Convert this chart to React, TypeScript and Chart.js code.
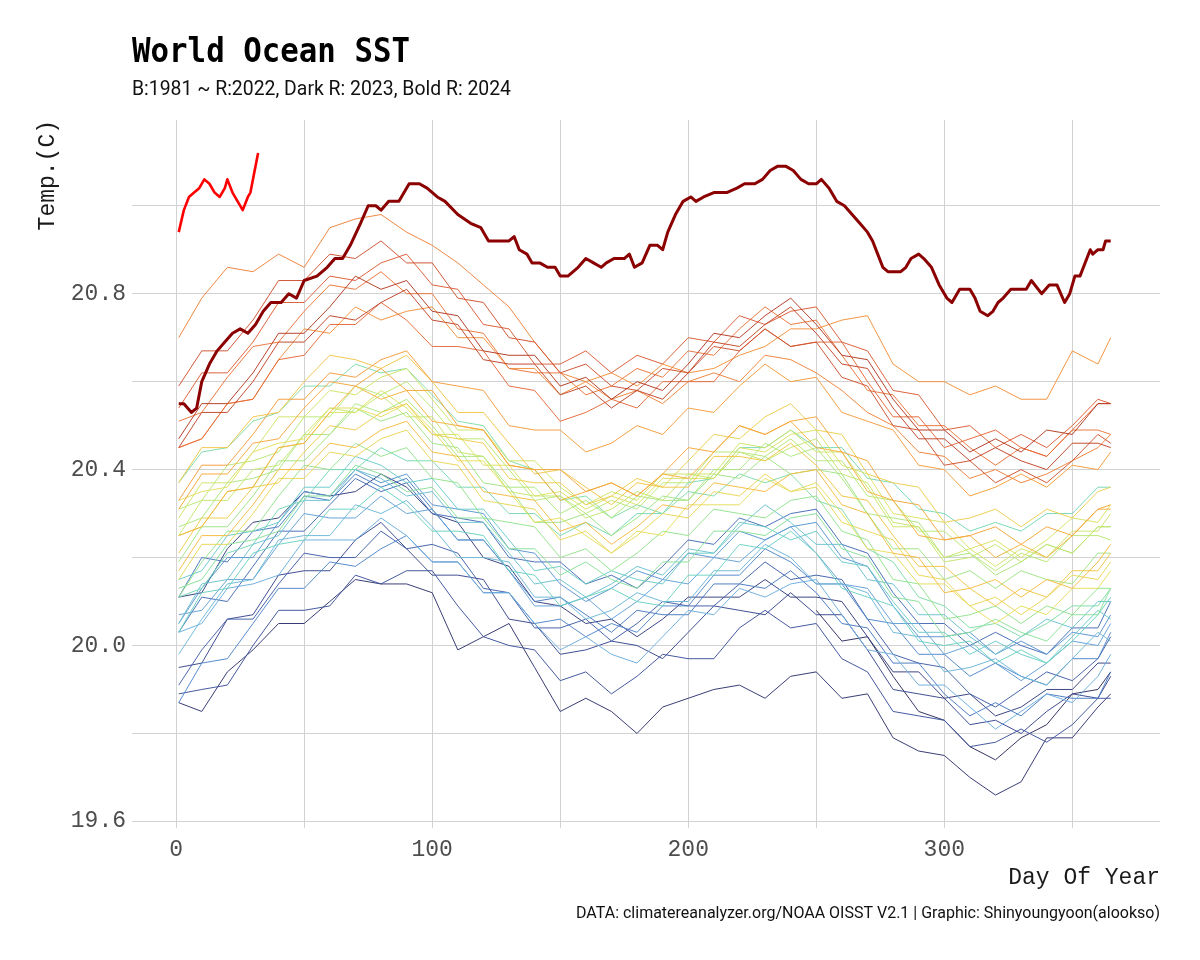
import React, { useEffect, useRef } from "react";
import { Chart, registerables } from "chart.js";

Chart.register(...registerables);

// ---------------- data ----------------
const DAYS = [1, 10, 20, 30, 40, 50, 60, 70, 80, 90, 100, 110, 120, 130, 140, 150, 160, 170, 180, 190, 200, 210, 220, 230, 240, 250, 260, 270, 280, 290, 300, 310, 320, 330, 340, 350, 360, 365];
const DAYS_1981 = [250, 260, 270, 280, 290, 300, 310, 320, 330, 340, 350, 360, 365];

const SST_1981 = [20.08, 20.01, 20.02, 19.93, 19.85, 19.83, 19.77, 19.74, 19.79, 19.82, 19.89, 19.90, 19.94];
const SST_1982 = [19.87, 19.85, 19.94, 19.99, 20.05, 20.05, 20.10, 20.15, 20.14, 20.14, 20.12, 19.99, 20.02, 20.05, 19.95, 19.85, 19.88, 19.85, 19.80, 19.86, 19.88, 19.90, 19.91, 19.88, 19.93, 19.94, 19.88, 19.89, 19.79, 19.76, 19.75, 19.70, 19.66, 19.69, 19.79, 19.79, 19.86, 19.89];
const SST_1983 = [20.11, 20.12, 20.22, 20.28, 20.29, 20.35, 20.34, 20.35, 20.39, 20.36, 20.30, 20.28, 20.20, 20.18, 20.10, 20.09, 20.05, 20.06, 20.02, 20.06, 20.11, 20.11, 20.11, 20.15, 20.11, 20.11, 20.10, 20.02, 19.94, 19.94, 19.88, 19.89, 19.84, 19.86, 19.90, 19.90, 19.96, 19.96];
const SST_1984 = [19.95, 19.96, 20.06, 20.07, 20.16, 20.17, 20.17, 20.24, 20.28, 20.22, 20.16, 20.16, 20.15, 20.06, 20.05, 19.98, 19.99, 20.01, 20.00, 19.97, 20.03, 20.09, 20.08, 20.07, 20.12, 20.07, 20.07, 19.99, 19.90, 19.89, 19.88, 19.82, 19.83, 19.80, 19.85, 19.89, 19.88, 19.93];
const SST_1985 = [19.89, 19.90, 19.91, 20.00, 20.08, 20.08, 20.09, 20.16, 20.14, 20.17, 20.17, 20.09, 20.02, 20.00, 19.99, 19.92, 19.94, 19.89, 19.93, 19.98, 19.97, 19.97, 20.04, 20.08, 20.04, 20.05, 19.97, 19.94, 19.85, 19.84, 19.83, 19.77, 19.78, 19.81, 19.78, 19.82, 19.88, 19.88];
const SST_1986 = [19.91, 19.99, 20.06, 20.06, 20.14, 20.21, 20.20, 20.20, 20.26, 20.22, 20.23, 20.21, 20.13, 20.12, 20.04, 20.04, 20.06, 20.01, 20.05, 20.10, 20.09, 20.09, 20.14, 20.19, 20.15, 20.16, 20.15, 20.06, 19.98, 19.96, 19.95, 19.89, 19.86, 19.90, 19.94, 19.92, 19.97, 20.02];
const SST_1987 = [20.03, 20.11, 20.10, 20.18, 20.26, 20.26, 20.32, 20.38, 20.35, 20.37, 20.30, 20.29, 20.28, 20.20, 20.19, 20.19, 20.14, 20.16, 20.13, 20.18, 20.24, 20.23, 20.29, 20.27, 20.30, 20.31, 20.23, 20.21, 20.12, 20.05, 20.05, 20.00, 20.03, 20.00, 19.98, 20.04, 20.04, 20.10];
const SST_1988 = [20.11, 20.20, 20.19, 20.26, 20.27, 20.34, 20.33, 20.39, 20.36, 20.38, 20.31, 20.24, 20.24, 20.17, 20.10, 20.11, 20.07, 20.03, 20.08, 20.07, 20.07, 20.14, 20.14, 20.13, 20.17, 20.12, 20.05, 20.04, 19.96, 19.96, 19.89, 19.84, 19.87, 19.84, 19.89, 19.88, 19.88, 19.94];
const SST_1989 = [19.87, 19.96, 19.97, 20.05, 20.13, 20.13, 20.19, 20.18, 20.22, 20.25, 20.19, 20.19, 20.12, 20.12, 20.05, 20.06, 20.02, 20.05, 20.03, 20.09, 20.09, 20.16, 20.16, 20.22, 20.19, 20.14, 20.14, 20.06, 20.05, 19.98, 19.98, 19.93, 19.96, 19.93, 19.91, 19.97, 19.97, 20.03];
const SST_1990 = [20.05, 20.13, 20.20, 20.20, 20.28, 20.35, 20.34, 20.40, 20.37, 20.39, 20.32, 20.31, 20.30, 20.22, 20.21, 20.14, 20.10, 20.13, 20.17, 20.15, 20.21, 20.20, 20.26, 20.24, 20.27, 20.28, 20.20, 20.18, 20.09, 20.02, 20.02, 20.03, 19.98, 20.01, 19.98, 20.03, 20.02, 20.07];
const SST_1991 = [20.07, 20.08, 20.15, 20.15, 20.23, 20.30, 20.29, 20.29, 20.34, 20.30, 20.31, 20.24, 20.24, 20.17, 20.09, 20.09, 20.11, 20.06, 20.10, 20.15, 20.14, 20.20, 20.19, 20.24, 20.27, 20.21, 20.14, 20.13, 20.05, 20.05, 19.98, 20.00, 19.96, 19.92, 19.96, 20.01, 20.00, 20.05];
const SST_1992 = [20.03, 20.05, 20.13, 20.14, 20.16, 20.24, 20.24, 20.24, 20.29, 20.25, 20.19, 20.19, 20.12, 20.12, 20.05, 19.99, 20.02, 19.98, 19.96, 20.02, 20.08, 20.07, 20.13, 20.11, 20.14, 20.15, 20.07, 19.99, 19.98, 19.91, 19.91, 19.86, 19.81, 19.85, 19.89, 19.87, 19.93, 19.98];
const SST_1993 = [19.98, 20.06, 20.14, 20.15, 20.24, 20.25, 20.25, 20.32, 20.30, 20.33, 20.27, 20.20, 20.20, 20.19, 20.11, 20.11, 20.06, 20.08, 20.12, 20.10, 20.10, 20.17, 20.17, 20.23, 20.20, 20.14, 20.14, 20.12, 20.03, 20.02, 19.94, 19.95, 19.97, 19.93, 19.91, 19.97, 20.03, 20.01];
const SST_1994 = [20.05, 20.14, 20.15, 20.23, 20.25, 20.33, 20.33, 20.40, 20.38, 20.34, 20.35, 20.28, 20.28, 20.21, 20.14, 20.15, 20.11, 20.14, 20.18, 20.16, 20.22, 20.21, 20.27, 20.32, 20.28, 20.23, 20.23, 20.15, 20.14, 20.07, 20.07, 20.02, 19.98, 20.02, 20.06, 20.04, 20.10, 20.10];
const SST_1995 = [20.15, 20.17, 20.25, 20.26, 20.28, 20.36, 20.36, 20.43, 20.41, 20.37, 20.38, 20.31, 20.31, 20.24, 20.17, 20.18, 20.14, 20.17, 20.15, 20.14, 20.21, 20.21, 20.28, 20.27, 20.24, 20.26, 20.19, 20.18, 20.10, 20.03, 20.03, 19.98, 20.01, 19.98, 19.96, 20.02, 20.08, 20.06];
const SST_1996 = [20.03, 20.12, 20.13, 20.21, 20.23, 20.24, 20.31, 20.31, 20.36, 20.32, 20.26, 20.26, 20.25, 20.17, 20.16, 20.09, 20.11, 20.13, 20.10, 20.09, 20.16, 20.16, 20.23, 20.22, 20.26, 20.21, 20.13, 20.11, 20.09, 20.01, 20.00, 20.01, 19.96, 19.99, 19.96, 20.01, 20.07, 20.11];
const SST_1997 = [20.11, 20.13, 20.21, 20.23, 20.31, 20.33, 20.40, 20.40, 20.45, 20.42, 20.42, 20.36, 20.36, 20.30, 20.30, 20.25, 20.28, 20.25, 20.30, 20.30, 20.37, 20.38, 20.45, 20.45, 20.49, 20.45, 20.45, 20.38, 20.37, 20.31, 20.30, 20.26, 20.28, 20.26, 20.30, 20.30, 20.36, 20.36];
const SST_1998 = [20.37, 20.44, 20.45, 20.51, 20.53, 20.59, 20.59, 20.64, 20.62, 20.63, 20.57, 20.51, 20.50, 20.42, 20.40, 20.33, 20.34, 20.29, 20.32, 20.30, 20.35, 20.34, 20.39, 20.37, 20.39, 20.33, 20.31, 20.22, 20.19, 20.11, 20.09, 20.04, 20.05, 20.02, 20.05, 20.09, 20.09, 20.13];
const SST_1999 = [20.13, 20.15, 20.23, 20.24, 20.26, 20.34, 20.34, 20.41, 20.39, 20.35, 20.36, 20.29, 20.29, 20.22, 20.22, 20.16, 20.19, 20.15, 20.13, 20.19, 20.19, 20.26, 20.26, 20.25, 20.29, 20.30, 20.22, 20.20, 20.11, 20.10, 20.02, 20.03, 20.06, 20.03, 20.01, 20.07, 20.07, 20.13];
const SST_2000 = [20.11, 20.19, 20.26, 20.26, 20.34, 20.41, 20.40, 20.46, 20.43, 20.45, 20.38, 20.37, 20.29, 20.28, 20.27, 20.20, 20.22, 20.17, 20.21, 20.26, 20.25, 20.31, 20.30, 20.29, 20.33, 20.34, 20.26, 20.24, 20.15, 20.14, 20.06, 20.07, 20.09, 20.05, 20.09, 20.07, 20.13, 20.13];
const SST_2001 = [20.19, 20.27, 20.27, 20.34, 20.42, 20.42, 20.48, 20.54, 20.51, 20.53, 20.46, 20.45, 20.37, 20.36, 20.28, 20.28, 20.30, 20.25, 20.29, 20.34, 20.33, 20.39, 20.38, 20.43, 20.39, 20.40, 20.39, 20.30, 20.22, 20.22, 20.15, 20.17, 20.13, 20.17, 20.15, 20.14, 20.21, 20.21];
const SST_2002 = [20.27, 20.29, 20.37, 20.38, 20.40, 20.48, 20.48, 20.55, 20.53, 20.56, 20.50, 20.43, 20.43, 20.36, 20.36, 20.30, 20.33, 20.29, 20.34, 20.33, 20.33, 20.40, 20.40, 20.46, 20.43, 20.45, 20.38, 20.30, 20.29, 20.28, 20.20, 20.21, 20.16, 20.19, 20.23, 20.21, 20.27, 20.27];
const SST_2003 = [20.31, 20.33, 20.41, 20.42, 20.44, 20.52, 20.52, 20.59, 20.57, 20.60, 20.54, 20.47, 20.47, 20.40, 20.33, 20.34, 20.30, 20.33, 20.31, 20.37, 20.37, 20.44, 20.44, 20.43, 20.47, 20.42, 20.42, 20.34, 20.33, 20.26, 20.26, 20.21, 20.17, 20.21, 20.19, 20.25, 20.25, 20.24];
const SST_2004 = [20.25, 20.33, 20.33, 20.40, 20.41, 20.48, 20.54, 20.53, 20.57, 20.52, 20.52, 20.44, 20.43, 20.35, 20.34, 20.34, 20.29, 20.31, 20.35, 20.33, 20.39, 20.38, 20.44, 20.42, 20.45, 20.47, 20.39, 20.37, 20.28, 20.27, 20.19, 20.20, 20.23, 20.19, 20.23, 20.21, 20.27, 20.27];
const SST_2005 = [20.29, 20.37, 20.37, 20.44, 20.52, 20.52, 20.58, 20.57, 20.61, 20.63, 20.56, 20.49, 20.49, 20.42, 20.42, 20.36, 20.32, 20.35, 20.33, 20.39, 20.39, 20.39, 20.46, 20.45, 20.49, 20.44, 20.44, 20.36, 20.27, 20.27, 20.20, 20.22, 20.18, 20.22, 20.20, 20.26, 20.26, 20.30];
const SST_2006 = [20.25, 20.27, 20.35, 20.36, 20.45, 20.46, 20.53, 20.53, 20.58, 20.54, 20.48, 20.48, 20.41, 20.41, 20.34, 20.35, 20.31, 20.34, 20.32, 20.38, 20.38, 20.38, 20.45, 20.44, 20.48, 20.49, 20.41, 20.39, 20.30, 20.29, 20.28, 20.22, 20.24, 20.20, 20.24, 20.29, 20.28, 20.32];
const SST_2007 = [20.33, 20.35, 20.36, 20.44, 20.46, 20.47, 20.54, 20.54, 20.52, 20.55, 20.49, 20.42, 20.42, 20.35, 20.28, 20.29, 20.25, 20.21, 20.26, 20.25, 20.32, 20.32, 20.32, 20.38, 20.35, 20.37, 20.30, 20.22, 20.21, 20.14, 20.14, 20.09, 20.05, 20.09, 20.07, 20.13, 20.13, 20.17];
const SST_2008 = [20.15, 20.23, 20.23, 20.30, 20.38, 20.38, 20.44, 20.43, 20.47, 20.49, 20.42, 20.41, 20.33, 20.32, 20.31, 20.24, 20.26, 20.21, 20.25, 20.30, 20.29, 20.35, 20.34, 20.39, 20.35, 20.36, 20.28, 20.26, 20.24, 20.16, 20.15, 20.09, 20.11, 20.07, 20.11, 20.16, 20.15, 20.19];
const SST_2009 = [20.21, 20.29, 20.29, 20.36, 20.37, 20.44, 20.50, 20.49, 20.53, 20.55, 20.48, 20.47, 20.46, 20.38, 20.37, 20.37, 20.32, 20.34, 20.38, 20.36, 20.42, 20.48, 20.47, 20.52, 20.55, 20.49, 20.48, 20.39, 20.37, 20.36, 20.28, 20.29, 20.31, 20.27, 20.31, 20.29, 20.35, 20.36];
const SST_2010 = [20.37, 20.45, 20.45, 20.52, 20.53, 20.60, 20.66, 20.65, 20.63, 20.66, 20.60, 20.53, 20.53, 20.46, 20.39, 20.40, 20.36, 20.32, 20.37, 20.36, 20.36, 20.43, 20.43, 20.42, 20.46, 20.41, 20.34, 20.33, 20.25, 20.18, 20.18, 20.13, 20.09, 20.13, 20.11, 20.17, 20.17, 20.21];
const SST_2011 = [20.17, 20.25, 20.25, 20.32, 20.40, 20.40, 20.46, 20.45, 20.49, 20.51, 20.44, 20.43, 20.35, 20.34, 20.33, 20.26, 20.28, 20.23, 20.27, 20.32, 20.31, 20.37, 20.36, 20.35, 20.39, 20.40, 20.32, 20.30, 20.21, 20.20, 20.12, 20.13, 20.15, 20.11, 20.15, 20.13, 20.19, 20.23];
const SST_2012 = [20.25, 20.27, 20.35, 20.36, 20.45, 20.46, 20.53, 20.59, 20.56, 20.58, 20.51, 20.50, 20.49, 20.41, 20.40, 20.33, 20.35, 20.37, 20.34, 20.39, 20.38, 20.44, 20.50, 20.48, 20.51, 20.45, 20.44, 20.35, 20.33, 20.25, 20.24, 20.25, 20.20, 20.23, 20.20, 20.25, 20.31, 20.31];
const SST_2013 = [20.31, 20.39, 20.39, 20.46, 20.47, 20.54, 20.60, 20.59, 20.63, 20.58, 20.58, 20.50, 20.49, 20.41, 20.40, 20.40, 20.35, 20.37, 20.34, 20.39, 20.45, 20.44, 20.50, 20.48, 20.51, 20.52, 20.44, 20.42, 20.33, 20.32, 20.24, 20.25, 20.27, 20.23, 20.27, 20.25, 20.31, 20.32];
const SST_2014 = [20.33, 20.41, 20.41, 20.48, 20.56, 20.56, 20.62, 20.61, 20.65, 20.67, 20.60, 20.59, 20.58, 20.50, 20.49, 20.49, 20.44, 20.46, 20.50, 20.48, 20.54, 20.53, 20.59, 20.64, 20.60, 20.61, 20.53, 20.51, 20.49, 20.41, 20.40, 20.34, 20.36, 20.39, 20.36, 20.41, 20.40, 20.44];
const SST_2015 = [20.45, 20.47, 20.55, 20.56, 20.65, 20.72, 20.71, 20.77, 20.74, 20.76, 20.77, 20.70, 20.70, 20.63, 20.63, 20.57, 20.60, 20.62, 20.59, 20.64, 20.62, 20.63, 20.66, 20.68, 20.72, 20.72, 20.74, 20.75, 20.64, 20.60, 20.60, 20.57, 20.59, 20.56, 20.56, 20.67, 20.64, 20.70];
const SST_2016 = [20.70, 20.79, 20.86, 20.85, 20.89, 20.86, 20.95, 20.97, 20.98, 20.94, 20.91, 20.87, 20.82, 20.77, 20.69, 20.62, 20.60, 20.56, 20.58, 20.55, 20.60, 20.62, 20.60, 20.66, 20.65, 20.62, 20.58, 20.53, 20.50, 20.44, 20.43, 20.38, 20.40, 20.37, 20.39, 20.42, 20.45, 20.48];
const SST_2017 = [20.51, 20.53, 20.61, 20.68, 20.69, 20.76, 20.82, 20.81, 20.85, 20.80, 20.80, 20.72, 20.71, 20.63, 20.62, 20.62, 20.57, 20.59, 20.63, 20.61, 20.67, 20.66, 20.72, 20.77, 20.73, 20.74, 20.66, 20.58, 20.57, 20.50, 20.50, 20.45, 20.41, 20.45, 20.43, 20.49, 20.49, 20.48];
const SST_2018 = [20.45, 20.47, 20.55, 20.56, 20.65, 20.66, 20.73, 20.73, 20.78, 20.74, 20.68, 20.68, 20.67, 20.59, 20.58, 20.51, 20.53, 20.56, 20.54, 20.60, 20.60, 20.60, 20.67, 20.72, 20.68, 20.69, 20.69, 20.60, 20.52, 20.52, 20.45, 20.47, 20.49, 20.45, 20.43, 20.49, 20.55, 20.55];
const SST_2019 = [20.54, 20.62, 20.62, 20.69, 20.78, 20.78, 20.84, 20.83, 20.87, 20.89, 20.82, 20.81, 20.73, 20.72, 20.64, 20.64, 20.67, 20.62, 20.66, 20.64, 20.70, 20.69, 20.75, 20.73, 20.76, 20.77, 20.69, 20.67, 20.58, 20.57, 20.49, 20.50, 20.45, 20.48, 20.45, 20.50, 20.56, 20.55];
const SST_2020 = [20.59, 20.67, 20.67, 20.74, 20.83, 20.83, 20.89, 20.88, 20.92, 20.87, 20.87, 20.79, 20.78, 20.70, 20.69, 20.62, 20.64, 20.59, 20.58, 20.63, 20.62, 20.68, 20.67, 20.72, 20.68, 20.69, 20.61, 20.59, 20.50, 20.49, 20.41, 20.42, 20.37, 20.40, 20.37, 20.42, 20.48, 20.46];
const SST_2021 = [20.45, 20.53, 20.53, 20.60, 20.69, 20.69, 20.75, 20.74, 20.78, 20.81, 20.74, 20.73, 20.65, 20.64, 20.64, 20.57, 20.59, 20.54, 20.58, 20.56, 20.62, 20.69, 20.68, 20.73, 20.77, 20.71, 20.64, 20.63, 20.54, 20.47, 20.47, 20.42, 20.45, 20.42, 20.40, 20.46, 20.46, 20.45];
const SST_2022 = [20.47, 20.55, 20.55, 20.62, 20.71, 20.71, 20.77, 20.84, 20.81, 20.83, 20.76, 20.75, 20.67, 20.66, 20.66, 20.59, 20.61, 20.56, 20.60, 20.58, 20.64, 20.71, 20.70, 20.75, 20.79, 20.73, 20.66, 20.65, 20.56, 20.49, 20.49, 20.44, 20.47, 20.44, 20.49, 20.48, 20.55, 20.55];

const DAYS_2023 = [1, 3, 6, 8, 10, 13, 16, 19, 22, 25, 28, 31, 34, 37, 41, 44, 47, 50, 55, 59, 62, 65, 68, 72, 75, 78, 80, 83, 87, 91, 95, 98, 102, 105, 110, 115, 119, 122, 130, 132, 134, 137, 139, 142, 145, 148, 150, 153, 157, 160, 163, 166, 168, 171, 175, 177, 179, 182, 185, 188, 190, 192, 195, 198, 201, 203, 206, 210, 215, 219, 222, 226, 229, 232, 235, 238, 241, 244, 247, 250, 252, 255, 258, 261, 264, 267, 270, 272, 274, 276, 278, 283, 285, 287, 290, 292, 295, 298, 301, 303, 306, 310, 312, 314, 317, 319, 321, 323, 326, 332, 334, 338, 341, 344, 347, 349, 351, 353, 357, 358, 360, 362, 363, 365];
const SST_2023 = [20.55, 20.55, 20.53, 20.54, 20.60, 20.64, 20.67, 20.69, 20.71, 20.72, 20.71, 20.73, 20.76, 20.78, 20.78, 20.80, 20.79, 20.83, 20.84, 20.86, 20.88, 20.88, 20.91, 20.96, 21.00, 21.00, 20.99, 21.01, 21.01, 21.05, 21.05, 21.04, 21.02, 21.01, 20.98, 20.96, 20.95, 20.92, 20.92, 20.93, 20.90, 20.89, 20.87, 20.87, 20.86, 20.86, 20.84, 20.84, 20.86, 20.88, 20.87, 20.86, 20.87, 20.88, 20.88, 20.89, 20.86, 20.87, 20.91, 20.91, 20.90, 20.94, 20.98, 21.01, 21.02, 21.01, 21.02, 21.03, 21.03, 21.04, 21.05, 21.05, 21.06, 21.08, 21.09, 21.09, 21.08, 21.06, 21.05, 21.05, 21.06, 21.04, 21.01, 21.00, 20.98, 20.96, 20.94, 20.92, 20.89, 20.86, 20.85, 20.85, 20.86, 20.88, 20.89, 20.88, 20.86, 20.82, 20.79, 20.78, 20.81, 20.81, 20.79, 20.76, 20.75, 20.76, 20.78, 20.79, 20.81, 20.81, 20.83, 20.80, 20.82, 20.82, 20.78, 20.80, 20.84, 20.84, 20.90, 20.89, 20.90, 20.90, 20.92, 20.92];

const DAYS_2024 = [1, 3, 5, 7, 9, 11, 13, 15, 17, 19, 20, 22, 24, 26, 28, 29, 30, 32];
const SST_2024 = [20.94, 20.99, 21.02, 21.03, 21.04, 21.06, 21.05, 21.03, 21.02, 21.04, 21.06, 21.03, 21.01, 20.99, 21.02, 21.03, 21.06, 21.12];

const X_TICKS = [0, 50, 100, 150, 200, 250, 300, 350];
const X_LABELED = [0, 100, 200, 300];
const Y_TICKS = [19.6, 19.8, 20.0, 20.2, 20.4, 20.6, 20.8, 21.0];
const Y_LABELED = [19.6, 20.0, 20.4, 20.8];

const HISTORY: [number, number[], number[]][] = [
  [1981, DAYS_1981, SST_1981], [1982, DAYS, SST_1982], [1983, DAYS, SST_1983], [1984, DAYS, SST_1984],
  [1985, DAYS, SST_1985], [1986, DAYS, SST_1986], [1987, DAYS, SST_1987], [1988, DAYS, SST_1988],
  [1989, DAYS, SST_1989], [1990, DAYS, SST_1990], [1991, DAYS, SST_1991], [1992, DAYS, SST_1992],
  [1993, DAYS, SST_1993], [1994, DAYS, SST_1994], [1995, DAYS, SST_1995], [1996, DAYS, SST_1996],
  [1997, DAYS, SST_1997], [1998, DAYS, SST_1998], [1999, DAYS, SST_1999], [2000, DAYS, SST_2000],
  [2001, DAYS, SST_2001], [2002, DAYS, SST_2002], [2003, DAYS, SST_2003], [2004, DAYS, SST_2004],
  [2005, DAYS, SST_2005], [2006, DAYS, SST_2006], [2007, DAYS, SST_2007], [2008, DAYS, SST_2008],
  [2009, DAYS, SST_2009], [2010, DAYS, SST_2010], [2011, DAYS, SST_2011], [2012, DAYS, SST_2012],
  [2013, DAYS, SST_2013], [2014, DAYS, SST_2014], [2015, DAYS, SST_2015], [2016, DAYS, SST_2016],
  [2017, DAYS, SST_2017], [2018, DAYS, SST_2018], [2019, DAYS, SST_2019], [2020, DAYS, SST_2020],
  [2021, DAYS, SST_2021], [2022, DAYS, SST_2022],
];

// ---------------- styling ----------------
const RAMP = ["#2b2b5e", "#3b4d98", "#4a7fc6", "#6db0de", "#68d2c2", "#8ee28f", "#bce872", "#e6de5c", "#f4be40", "#f4963a", "#e5643a", "#b23a22"];

function hexToRgb(h: string) {
  const n = parseInt(h.slice(1), 16);
  return [(n >> 16) & 255, (n >> 8) & 255, n & 255];
}
function rampColor(t: number, alpha: number) {
  const n = RAMP.length - 1;
  const p = Math.max(0, Math.min(1, t)) * n;
  const i = Math.min(Math.floor(p), n - 1);
  const f = p - i;
  const a = hexToRgb(RAMP[i]);
  const b = hexToRgb(RAMP[i + 1]);
  const c = a.map((v, k) => Math.round(v + (b[k] - v) * f));
  return `rgba(${c[0]},${c[1]},${c[2]},${alpha})`;
}

const MONO = "'Liberation Mono', 'DejaVu Sans Mono', monospace";

const textPlugin = {
  id: "textOverlay",
  afterDraw(chart: any) {
    const ctx = chart.ctx as CanvasRenderingContext2D;
    const drawScaled = (text: string, font: string, color: string, x: number, y: number, width: number, anchor: "left" | "right") => {
      ctx.save();
      ctx.font = font;
      ctx.fillStyle = color;
      ctx.textBaseline = "alphabetic";
      ctx.textAlign = "left";
      const w = ctx.measureText(text).width;
      const s = width / w;
      const x0 = anchor === "left" ? x : x - width;
      ctx.translate(x0, y);
      ctx.scale(s, 1);
      ctx.fillText(text, 0, 0);
      ctx.restore();
    };
    drawScaled("World Ocean SST", "bold 33px 'DejaVu Sans Mono'", "#000000", 132, 62, 278, "left");
    drawScaled("B:1981 ~ R:2022, Dark R: 2023, Bold R: 2024", "21px Roboto", "#111111", 132, 95, 379, "left");
    drawScaled("DATA: climatereanalyzer.org/NOAA OISST V2.1 | Graphic: Shinyoungyoon(alookso)", "17px Roboto", "#111111", 1160, 918, 584, "right");
  },
};

export default function App() {
  const ref = useRef<HTMLCanvasElement | null>(null);

  useEffect(() => {
    document.body.style.margin = "0";
    const canvas = ref.current;
    if (!canvas) return;

    const history = HISTORY.slice()
      .reverse()
      .map(([year, days, vals]) => ({
        label: String(year),
        data: days.map((d, i) => ({ x: d, y: vals[i] })),
        borderColor: rampColor((year - 1981) / 41, 0.95),
        borderWidth: 1,
      }));

    const datasets = [
      { label: "2024", data: DAYS_2024.map((d, i) => ({ x: d, y: SST_2024[i] })), borderColor: "#ff0000", borderWidth: 2.6 },
      { label: "2023", data: DAYS_2023.map((d, i) => ({ x: d, y: SST_2023[i] })), borderColor: "#8b0000", borderWidth: 3 },
      ...history,
    ].map((ds) => ({ ...ds, pointRadius: 0, pointHoverRadius: 0, tension: 0, fill: false, borderJoinStyle: "round" as const }));

    const chart = new Chart(canvas, {
      type: "line",
      data: { datasets },
      options: {
        responsive: false,
        animation: false,
        events: [],
        layout: { padding: { top: 120, right: 40, left: 0, bottom: 0 } },
        plugins: { legend: { display: false }, tooltip: { enabled: false }, title: { display: false } },
        scales: {
          x: {
            type: "linear",
            min: -17.25,
            max: 384.25,
            afterBuildTicks: (s: any) => {
              s.ticks = X_TICKS.map((v) => ({ value: v }));
            },
            afterFit: (s: any) => {
              s.height = 132;
            },
            grid: { color: "#d2d2d2", lineWidth: 1, drawTicks: false },
            border: { display: false },
            ticks: {
              autoSkip: false,
              maxRotation: 0,
              padding: 8,
              color: "#4d4d4d",
              font: { family: MONO, size: 23 },
              callback: (v: any) => (X_LABELED.includes(Number(v)) ? String(v) : ""),
            },
            title: {
              display: true,
              text: "Day Of Year",
              align: "end",
              color: "#1a1a1a",
              font: { family: MONO, size: 23 },
              padding: { top: 0, bottom: 68 },
            },
          },
          y: {
            type: "linear",
            min: 19.585,
            max: 21.195,
            afterBuildTicks: (s: any) => {
              s.ticks = Y_TICKS.map((v) => ({ value: v }));
            },
            afterFit: (s: any) => {
              s.width = 132;
            },
            grid: { color: "#d2d2d2", lineWidth: 1, drawTicks: false },
            border: { display: false },
            ticks: {
              padding: 6,
              color: "#4d4d4d",
              font: { family: MONO, size: 23 },
              callback: (v: any) => {
                const n = Number(v);
                return Y_LABELED.some((l) => Math.abs(l - n) < 1e-6) ? n.toFixed(1) : "";
              },
            },
            title: {
              display: true,
              text: "Temp.(C)",
              align: "end",
              color: "#1a1a1a",
              font: { family: MONO, size: 23 },
              padding: { top: 34, bottom: 0 },
            },
          },
        },
      },
      plugins: [textPlugin],
    });

    return () => chart.destroy();
  }, []);

  return (
    <div style={{ width: 1200, height: 960, background: "#ffffff" }}>
      <canvas ref={ref} width={1200} height={960} style={{ display: "block", width: 1200, height: 960 }} />
    </div>
  );
}
